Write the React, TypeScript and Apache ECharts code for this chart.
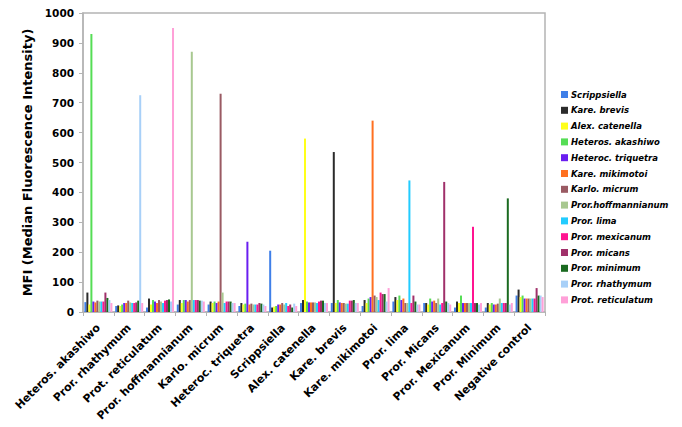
import React, { useEffect, useRef } from "react";
import * as echarts from "echarts";

const categories = [
  "Heteros. akashiwo",
  "Pror. rhathymum",
  "Prot. reticulatum",
  "Pror. hoffmannianum",
  "Karlo. micrum",
  "Heteroc. triquetra",
  "Scrippsiella",
  "Alex. catenella",
  "Kare. brevis",
  "Kare. mikimotoi",
  "Pror. lima",
  "Pror. Micans",
  "Pror. Mexicanum",
  "Pror. Minimum",
  "Negative control",
];

const seriesNames = [
  "Scrippsiella",
  "Kare. brevis",
  "Alex. catenella",
  "Heteros. akashiwo",
  "Heteroc. triquetra",
  "Kare. mikimotoi",
  "Karlo. micrum",
  "Pror.hoffmannianum",
  "Pror. lima",
  "Pror. mexicanum",
  "Pror. micans",
  "Pror. minimum",
  "Pror. rhathymum",
  "Prot. reticulatum",
];

const seriesColors = [
  "#3f7fe8",
  "#2b2b2b",
  "#ffff1a",
  "#55dd55",
  "#6a1ef0",
  "#ff7020",
  "#9a5a63",
  "#a8c890",
  "#22ccff",
  "#ff1490",
  "#a0306a",
  "#1a6a20",
  "#a8d0f8",
  "#ffa0d8",
];

// values[series][category]
const scrippsiellaVals = [33, 20, 15, 25, 25, 20, 205, 30, 30, 20, 35, 30, 15, 15, 55];
const kareBrevisVals = [65, 22, 45, 40, 35, 30, 15, 40, 535, 40, 50, 30, 35, 30, 75];
const alexCatenellaVals = [25, 20, 25, 30, 30, 25, 18, 580, 30, 30, 40, 25, 30, 25, 50];
const heterosAkashiwoVals = [930, 25, 40, 40, 35, 28, 20, 35, 40, 45, 55, 45, 55, 30, 55];
const heterocTriquetraVals = [35, 30, 35, 40, 30, 235, 25, 32, 32, 50, 40, 35, 30, 25, 45];
const kareMikimotoiVals = [32, 30, 30, 35, 35, 25, 25, 32, 30, 640, 45, 38, 30, 25, 45];
const karloMicrumVals = [38, 38, 40, 40, 730, 28, 30, 32, 30, 55, 30, 30, 30, 28, 45];
const prorHoffVals = [35, 32, 35, 870, 65, 25, 25, 32, 28, 50, 30, 45, 30, 45, 45];
const prorLimaVals = [35, 30, 30, 40, 30, 25, 30, 30, 28, 40, 440, 25, 30, 30, 45];
const prorMexicanumVals = [35, 30, 38, 40, 35, 25, 20, 35, 38, 65, 30, 30, 285, 30, 45];
const prorMicansVals = [65, 32, 40, 40, 35, 30, 25, 38, 38, 60, 55, 435, 30, 30, 80];
const prorMinimumVals = [47, 38, 42, 38, 35, 28, 15, 38, 40, 60, 35, 35, 30, 380, 55];
const prorRhathymumVals = [40, 725, 35, 38, 30, 25, 28, 30, 30, 35, 25, 30, 25, 25, 55];
const protReticulatumVals = [30, 30, 950, 35, 30, 20, 20, 30, 30, 80, 25, 25, 30, 30, 50];

const allValues = [
  scrippsiellaVals,
  kareBrevisVals,
  alexCatenellaVals,
  heterosAkashiwoVals,
  heterocTriquetraVals,
  kareMikimotoiVals,
  karloMicrumVals,
  prorHoffVals,
  prorLimaVals,
  prorMexicanumVals,
  prorMicansVals,
  prorMinimumVals,
  prorRhathymumVals,
  protReticulatumVals,
];

const yTicks = { min: 0, max: 1000, interval: 100 };

export default function App() {
  const ref = useRef<HTMLDivElement>(null);
  useEffect(() => {
    if (!ref.current) return;
    const chart = echarts.init(ref.current, undefined, { renderer: "svg" });
    const font = "DejaVu Sans";
    chart.setOption({
      animation: false,
      backgroundColor: "#ffffff",
      textStyle: { fontFamily: font },
      grid: {
        left: 83,
        right: 137,
        top: 13,
        bottom: 115,
        show: true,
        borderColor: "#b4b4b4",
        borderWidth: 1.5,
        backgroundColor: "transparent",
      },
      legend: {
        orient: "vertical",
        left: 556,
        top: 85,
        itemWidth: 7,
        itemHeight: 7,
        itemGap: 6.8,
        icon: "rect",
        data: seriesNames,
        textStyle: {
          fontFamily: font,
          fontSize: 8.5,
          fontWeight: "bold",
          fontStyle: "italic",
          color: "#000",
          padding: [0, 0, 0, -2],
        },
      },
      xAxis: {
        type: "category",
        data: categories,
        axisLine: { lineStyle: { color: "#b4b4b4", width: 1.5 } },
        axisTick: { show: true, interval: 0, length: 4, lineStyle: { color: "#b4b4b4" } },
        axisLabel: {
          interval: 0,
          rotate: 45,
          fontFamily: font,
          fontSize: 11,
          fontWeight: "bold",
          color: "#000",
          margin: 14,
        },
      },
      yAxis: {
        type: "value",
        min: yTicks.min,
        max: yTicks.max,
        interval: yTicks.interval,
        name: "MFI (Median Fluorescence Intensity)",
        nameLocation: "middle",
        nameGap: 42,
        nameRotate: 90,
        nameTextStyle: { fontFamily: font, fontSize: 13, fontWeight: "bold", color: "#000" },
        splitLine: { show: false },
        axisLine: { show: true, lineStyle: { color: "#b4b4b4", width: 1.5 } },
        axisTick: { show: true, length: 4, lineStyle: { color: "#b4b4b4" } },
        axisLabel: {
          fontFamily: font,
          fontSize: 10.5,
          fontWeight: "bold",
          color: "#000",
          margin: 9,
          formatter: (v: number) => String(v),
        },
      },
      series: seriesNames.map((name, i) => ({
        name,
        type: "bar",
        data: allValues[i],
        itemStyle: { color: seriesColors[i] },
        barGap: "0%",
        barCategoryGap: "9%",
      })),
    });
    return () => chart.dispose();
  }, []);
  return <div ref={ref} style={{ width: 682, height: 427, position: "absolute", left: 0, top: 0 }} />;
}
